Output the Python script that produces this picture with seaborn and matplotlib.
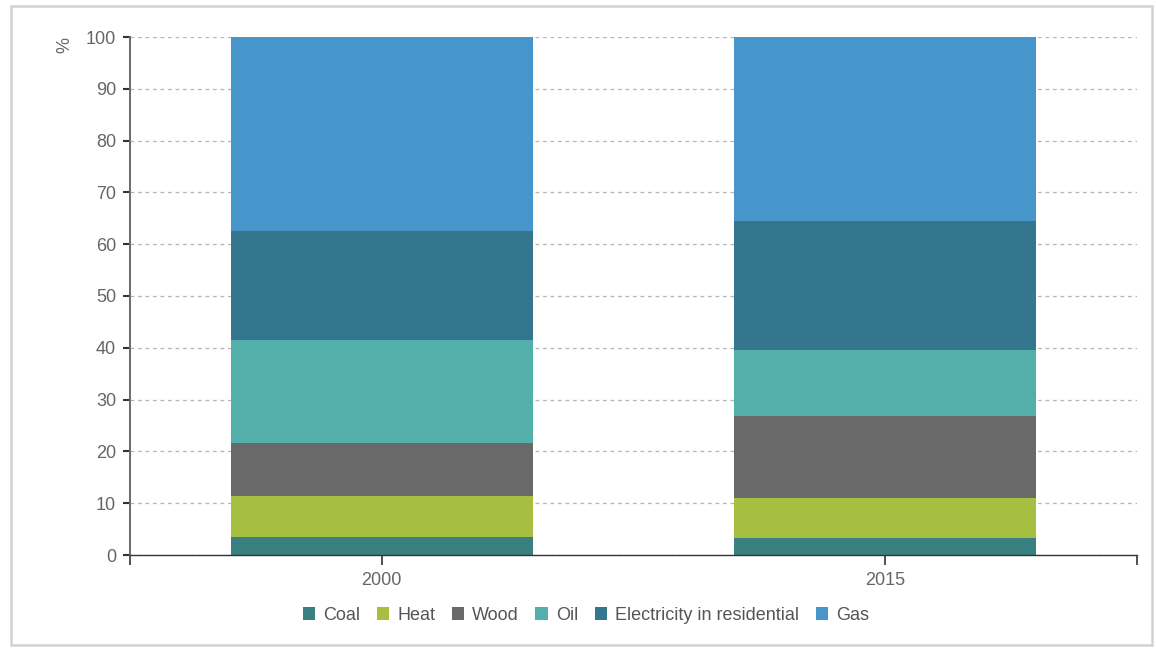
import matplotlib
matplotlib.use("Agg")
import matplotlib.pyplot as plt
from matplotlib.patches import Patch, Rectangle
import numpy as np
import pandas as pd
import seaborn as sns

# Residential energy mix, share of total (%)
years = ["2000", "2015"]
sources = ["Coal", "Heat", "Wood", "Oil", "Electricity in residential", "Gas"]
coal = [3.4, 3.2]
heat = [8.0, 7.9]
wood = [10.3, 15.7]
oil = [19.8, 12.7]
electricity = [21.1, 25.0]
gas = [37.4, 35.5]
colors = ["#3a8080", "#a6bf40", "#696969", "#53afaa", "#35768f", "#4796cb"]

series = [coal, heat, wood, oil, electricity, gas]
df = pd.DataFrame({"year": np.repeat(years, len(sources)),
                   "source": sources * len(years),
                   "value": [series[j][i] for i in range(len(years)) for j in range(len(sources))]})
df["source"] = pd.Categorical(df["source"], categories=sources, ordered=True)
df = df.sort_values(["year", "source"])
df["top"] = df.groupby("year")["value"].cumsum()

sns.set_theme(style="white")
plt.rcParams["font.family"] = ["Liberation Sans", "DejaVu Sans"]

fig = plt.figure(figsize=(11.56, 6.48), dpi=100)
ax = fig.add_axes([130 / 1156, 1 - 555 / 648, 1007 / 1156, 518 / 648])

# stacked bars: draw cumulative totals from the top segment down
for src, col in reversed(list(zip(sources, colors))):
    sub = df[df["source"] == src]
    sns.barplot(data=sub, x="year", y="top", order=years, color=col,
                width=0.6, saturation=1, linewidth=0, ax=ax, zorder=2)

ax.set_xlim(-0.5, 1.5)
ax.set_ylim(0, 100)
ax.set_yticks(np.arange(0, 101, 10))
ax.set_xlabel("")
ax.set_ylabel("")
ax.set_axisbelow(True)
ax.yaxis.grid(True, linestyle=(0, (3, 3)), color="#b5b5b5", linewidth=0.9)
ax.xaxis.grid(False)

for s in ["top", "right"]:
    ax.spines[s].set_visible(False)
ax.spines["left"].set_color("#6a6a6a")
ax.spines["left"].set_linewidth(1.4)
ax.spines["bottom"].set_color("#333333")
ax.spines["bottom"].set_linewidth(1.0)
ax.spines["bottom"].set_zorder(3)

ax.tick_params(axis="y", which="major", direction="out", length=5, width=1.5,
               color="#333333", labelsize=13, labelcolor="#666666", pad=5, left=True)
ax.tick_params(axis="x", which="major", direction="out", length=7, width=1.2,
               color="#333333", labelsize=13, labelcolor="#666666", pad=5, bottom=True)
ax.set_xticks([-0.5, 1.5], minor=True)
ax.tick_params(axis="x", which="minor", direction="out", length=7, width=1.2,
               color="#333333", bottom=True)

fig.text(65 / 1156, 1 - 45 / 648, "%", rotation=90, ha="center", va="center",
         fontsize=13, color="#666666")

handles = [Patch(facecolor=c, edgecolor="none", label=s) for s, c in zip(sources, colors)]
fig.legend(handles=handles, loc="center", bbox_to_anchor=(586 / 1156, 1 - 615 / 648),
           ncol=6, frameon=False, fontsize=13, handlelength=0.7, handleheight=0.7,
           handletextpad=0.45, columnspacing=0.9, labelcolor="#555555")

# card border
fig.patches.append(Rectangle((11 / 1156, 1 - 645 / 648), 1141 / 1156, 639 / 648,
                             transform=fig.transFigure, fill=False,
                             edgecolor="#d2d2d2", linewidth=1.8, zorder=0))

fig.savefig("out.png", dpi=100)
